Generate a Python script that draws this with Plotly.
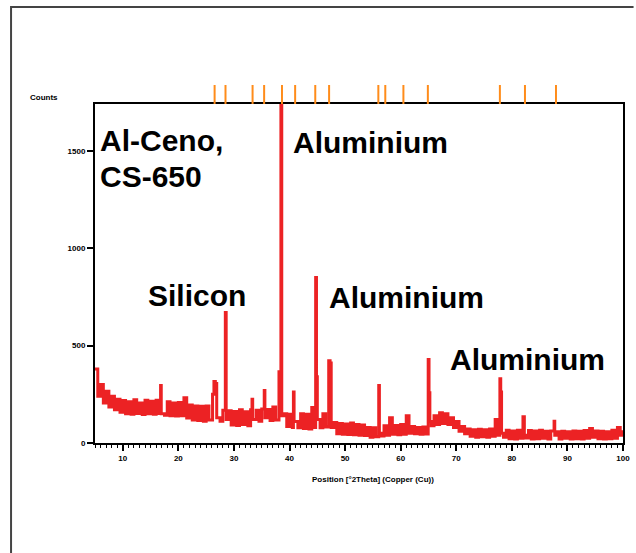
import plotly.graph_objects as go

# Diffractogram background, sampled every 0.5 deg 2theta from 5 to 100
# (alternating upper / lower edge of the noisy trace)
base_start = 5.0
base_step = 0.5
base_counts = [
    380, 240, 300, 205, 265, 185, 240, 170, 225, 158,
    218, 150, 212, 148, 222, 152, 205, 146, 220, 150,
    214, 148, 220, 152, 210, 142, 212, 140, 205, 138,
    208, 140, 232, 128, 195, 118, 190, 116, 188, 112,
    190, 118, 205, 140, 160, 112, 168, 96, 165, 92,
    162, 90, 170, 95, 160, 88, 170, 108, 168, 112,
    175, 110, 172, 115, 185, 118, 200, 92, 150, 85,
    148, 80, 152, 78, 150, 75, 148, 72, 182, 80,
    160, 78, 150, 82, 148, 80, 105, 48, 100, 45,
    98, 44, 102, 42, 95, 40, 92, 38, 80, 30,
    78, 32, 82, 36, 88, 40, 130, 45, 90, 42,
    95, 45, 140, 50, 85, 48, 80, 45, 82, 46,
    105, 88, 140, 95, 155, 100, 150, 95, 130, 80,
    110, 60, 85, 48, 72, 35, 68, 30, 70, 32,
    68, 30, 72, 34, 120, 40, 70, 30, 65, 22,
    62, 20, 66, 24, 68, 25, 64, 20, 62, 22,
    65, 24, 60, 20, 62, 22, 58, 20, 60, 24,
    58, 20, 62, 22, 60, 20, 64, 24, 75, 30,
    62, 22, 60, 20, 58, 22, 65, 24, 80, 40,
    65,
]

# Reflections (position, counts), each followed by its return to background
peak_2theta = [16.8, 16.92, 26.15, 26.4, 26.65, 26.9, 28.45, 28.6,
               33.25, 33.37, 35.45, 35.57, 38.1, 38.45, 38.6, 40.7, 40.82,
               44.7, 44.85, 45.0, 47.05, 47.3, 56.05, 56.17,
               64.95, 65.1, 65.25, 77.85, 78.0, 78.15, 82.0, 82.25, 87.6, 87.72]
peak_counts = [295, 150, 250, 315, 305, 130, 670, 120,
               225, 120, 270, 130, 366, 1735, 140, 262, 110,
               850, 340, 120, 422, 410, 295, 50,
               428, 258, 110, 330, 262, 50, 135, 40, 112, 40]

# Reference pattern line positions (deg 2theta)
ref_lines = [26.52, 28.48, 33.35, 35.43, 38.64, 41.01, 44.63, 47.12,
             55.98, 57.23, 60.49, 64.89, 77.85, 82.36, 87.94]

x_ticks = [10, 20, 30, 40, 50, 60, 70, 80, 90, 100]
y_ticks = [0, 500, 1000, 1500]

# merge background and reflections into one profile
base_2theta = [base_start + i * base_step for i in range(len(base_counts))]
points = [(t, c) for t, c in zip(base_2theta, base_counts)
          if all(abs(t - p) > 0.2 for p in peak_2theta)]
points += list(zip(peak_2theta, peak_counts))
points.sort()
prof_x = [p[0] for p in points]
prof_y = [p[1] for p in points]

stick_x, stick_y = [], []
for p in ref_lines:
    stick_x += [p, p, None]
    stick_y += [0, 1, None]

fig = go.Figure()
fig.add_trace(go.Scatter(
    x=prof_x, y=prof_y, mode="lines", line_shape="hv",
    line=dict(color="#EC2224", width=3), showlegend=False, hoverinfo="x+y"))
fig.add_trace(go.Scatter(
    x=stick_x, y=stick_y, mode="lines", yaxis="y2",
    line=dict(color="#FF8C1A", width=2), showlegend=False, hoverinfo="x"))

tick_font = dict(family="Liberation Sans", size=8, color="black", weight="bold")

fig.update_layout(
    width=636, height=553,
    margin=dict(l=95, r=6, t=85, b=110),
    paper_bgcolor="white", plot_bgcolor="white",
    xaxis=dict(
        range=[5, 100], tickvals=x_ticks, ticktext=[str(v) for v in x_ticks],
        ticks="outside", ticklen=6, tickwidth=1.5, tickcolor="black",
        minor=dict(ticks="outside", ticklen=3, dtick=1, tickcolor="black", tickwidth=1),
        showline=True, linecolor="black", linewidth=2, mirror=True,
        showgrid=False, zeroline=False, tickfont=tick_font,
    ),
    yaxis=dict(
        domain=[0, 0.947], range=[0, 1740], tickvals=y_ticks,
        ticktext=[str(v) for v in y_ticks],
        ticks="outside", ticklen=6, tickwidth=1.5, tickcolor="black",
        showline=True, linecolor="black", linewidth=2, mirror=True,
        showgrid=False, zeroline=False, tickfont=tick_font,
    ),
    yaxis2=dict(domain=[0.947, 1], range=[0, 1], anchor="x",
                showticklabels=False, showgrid=False, zeroline=False,
                showline=False, ticks=""),
)

# outer frame (left and top edges)
fig.add_shape(type="path", xref="paper", yref="paper",
              path="M -0.159 -0.31 L -0.159 1.218 L 1.02 1.218",
              line=dict(color="#444444", width=2))

small = dict(family="Liberation Sans", size=8, color="black", weight="bold")
fig.add_annotation(text="Counts", xref="paper", yref="paper",
                   x=-0.126, y=0.965, xanchor="left", yanchor="middle",
                   showarrow=False, font=small)
fig.add_annotation(text="Position [°2Theta] (Copper (Cu))", xref="paper", yref="paper",
                   x=0.527, y=-0.103, xanchor="center", yanchor="middle",
                   showarrow=False, font=small)

big = dict(family="Liberation Sans", size=30, color="black", weight="bold")
labels = [
    ("Al-Ceno,", 5.5, 1555),
    ("CS-650", 5.5, 1370),
    ("Aluminium", 40.2, 1540),
    ("Silicon", 14.1, 755),
    ("Aluminium", 46.7, 749),
    ("Aluminium", 68.6, 426),
]
for txt, lx, ly in labels:
    fig.add_annotation(text=txt, x=lx, y=ly, xref="x", yref="y",
                       xanchor="left", yanchor="middle", showarrow=False,
                       font=big)

fig.write_html("out.html")
